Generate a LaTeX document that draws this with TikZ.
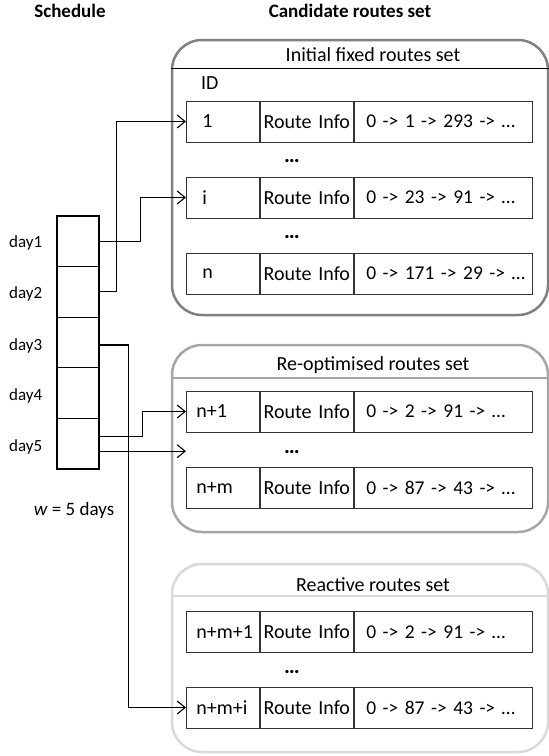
\documentclass[tikz,border=0pt]{standalone}
\usepackage{fontspec}
\setmainfont{Carlito}
\usetikzlibrary{arrows.meta,calc}
\newcommand\routerow[4]{%
  \node[idcell] (#1) at (186,#2) {#3};
  \node[infocell] (#1info) at (#1.east) {Route Info};
  \node[routecell] (#1route) at (#1info.east) {\mbox{#4}};
}
\begin{document}
\begin{tikzpicture}[x=1pt,y=-1pt,
  every node/.style={font=\fontsize{20}{24}\selectfont, inner sep=0pt},
  head/.style={font=\fontsize{19}{22}\selectfont\bfseries},
  daylab/.style={font=\fontsize{17}{20}\selectfont, anchor=east},
  setbox/.style={draw, rounded corners=30pt, line width=2.5pt},
  cellbase/.style={draw=black!80, line width=0.9pt, minimum height=41pt, anchor=west},
  idcell/.style={cellbase, minimum width=73pt, text width=53pt, inner xsep=10pt, align=left},
  infocell/.style={cellbase, minimum width=93pt, text width=93pt, align=center},
  routecell/.style={cellbase, minimum width=178.5pt, text width=154.5pt, inner xsep=12pt, align=left, font=\fontsize{19.5}{23}\selectfont},
  daycell/.style={draw, line width=1.3pt, minimum width=42pt, minimum height=50.6pt},
  dots/.style={font=\fontsize{22}{24}\selectfont\bfseries},
  conn/.style={line width=1.1pt, -{Straight Barb[length=8pt,width=13pt]}}
]
\useasboundingbox (0,0) rectangle (549,756);

% headers
\node[head] (hsched) at (70,11) {Schedule};
\node[head] (hcand) at (350,11) {Candidate routes set};

% set boxes
\node[setbox, draw=black!50, minimum width=376pt, minimum height=275pt] (box1) at (360,177.5) {};
\draw[black, line width=0.9pt] (box1.west |- 0,68) -- (box1.east |- 0,68);
\node (t1) at (373,55) {Initial fixed routes set};
\node[anchor=west] (idlab) at (201,83) {ID};

\node[setbox, draw=black!35, minimum width=376pt, minimum height=187pt] (box2) at (360,438.5) {};
\draw[black!35, line width=1.3pt] (box2.west |- 0,378) -- (box2.east |- 0,378);
\node (t2) at (373,365) {Re-optimised routes set};

\node[setbox, draw=black!15, minimum width=376pt, minimum height=188pt] (box3) at (360,658) {};
\draw[black!15, line width=1.3pt] (box3.west |- 0,596) -- (box3.east |- 0,596);
\node (t3) at (373,585) {Reactive routes set};

% rows
\routerow{r1}{121.5}{\hspace*{6pt}1}{0 -> 1 -> 293 -> …}
\node[dots] (dots1) at (292,161) {…};
\routerow{ri}{197.5}{\hspace*{6pt}i}{0 -> 23 -> 91 -> …}
\node[dots] (dots2) at (292,237) {…};
\routerow{rn}{273.5}{\hspace*{6pt}n}{0 -> 171 -> 29 -> …}

\routerow{rn1}{411.5}{n+1}{0 -> 2 -> 91 -> …}
\node[dots] (dots3) at (292,452) {…};
\routerow{rnm}{487.5}{n+m}{0 -> 87 -> 43 -> …}

\routerow{rnm1}{632}{n+m+1}{0 -> 2 -> 91 -> …}
\node[dots] (dots4) at (292,672) {…};
\routerow{rnmi}{707.5}{n+m+i}{0 -> 87 -> 43 -> …}

% schedule
\node[daycell] (d1) at (78,241.3) {};
\node[daycell] (d2) at (78,291.9) {};
\node[daycell] (d3) at (78,342.5) {};
\node[daycell] (d4) at (78,393.1) {};
\node[daycell] (d5) at (78,443.7) {};
\node[daylab] (l1) at ($(d1.west)+(-14,2)$) {day1};
\node[daylab] (l2) at ($(d2.west)+(-14,2)$) {day2};
\node[daylab] (l3) at ($(d3.west)+(-14,3)$) {day3};
\node[daylab] (l4) at ($(d4.west)+(-14,3)$) {day4};
\node[daylab] (l5) at ($(d5.west)+(-14,3)$) {day5};
\node[font=\fontsize{19}{22}\selectfont] (wlab) at (74,510) {\textit{w} = 5 days};

% connectors
\draw[conn] (d1.east) -- ++(41,0) |- (ri.west);
\draw[conn] (d2.east) -- ++(17,0) |- (r1.west);
\draw[conn] ($(d3.east)+(0,2.5)$) -- ++(29,0) |- (rnmi.west);
\draw[conn] ($(d5.east)+(0,-7.5)$) -- ++(43,0) |- (rn1.west);
\coordinate (gap) at (186,451.2);
\draw[conn] ($(d5.east)+(0,7.5)$) -- (gap);
\end{tikzpicture}
\end{document}
